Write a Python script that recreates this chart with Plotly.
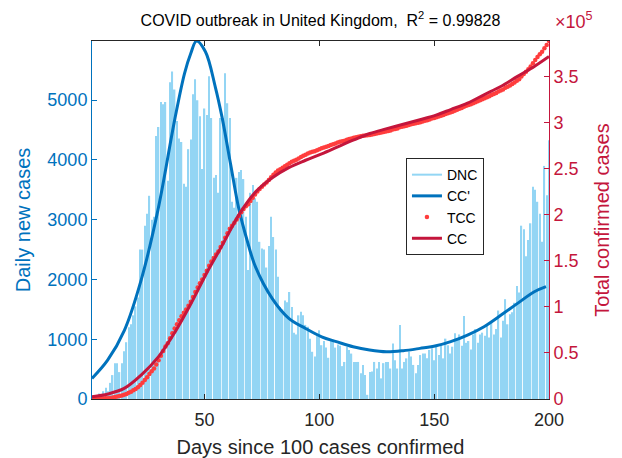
import plotly.graph_objects as go
import numpy as np

# daily new cases (days 1..200)
days = list(range(1, 201))
dnc = [60, 50, 50, 90, 70, 130, 190, 130, 270, 400,
       600, 600, 450, 600, 800, 950, 1200, 1250, 1400, 1550,
       1700, 2500, 2500, 2900, 3100, 3400, 3000, 3050, 4400, 4550,
       4970, 4930, 4970, 3650, 5300, 5480, 5180, 4650, 4360, 4300,
       3600, 3550, 4180, 4340, 5100, 5350, 5000, 4730, 3850, 4860,
       4750, 5400, 4700, 3700, 3750, 3450, 4700, 4700, 5450, 4950,
       4700, 3300, 3200, 3700, 3800, 3830, 3680, 3050, 2160, 3450,
       3580, 3360, 3300, 2630, 2520, 2500, 2200, 2560, 3050, 2710,
       2500, 2045, 1540, 1500, 1650, 1620, 1790, 1540, 1110, 1080,
       1400, 1460, 1400, 1240, 1210, 1010, 790, 710, 1070, 1150,
       900, 970, 860, 690, 970, 970, 860, 910, 890, 550,
       620, 875, 820, 760, 620, 620, 620, 430, 570, 400,
       70, 450, 460, 620, 510, 620, 345, 600, 620, 620,
       510, 930, 650, 510, 1240, 510, 620, 680, 790, 710,
       570, 430, 570, 735, 760, 760, 680, 820, 850, 650,
       900, 735, 900, 680, 1010, 900, 760, 875, 1100, 1010,
       1080, 890, 1390, 940, 970, 830, 1080, 1170, 940, 1080,
       1110, 1060, 1220, 1030, 1280, 1080, 1170, 1480, 1030, 1310,
       1670, 1250, 1420, 1450, 1610, 1890, 1780, 2900, 2840, 2390,
       2660, 2940, 3550, 3500, 3300, 3100, 2630, 3900, 3410, 4330]

# total confirmed cases = running total of the daily counts
tcc = 100 + np.cumsum(dnc)

# fitted cumulative curve (CC), read at sample days
cc_days = [1, 8, 15, 22.4, 30, 37, 44, 51, 58, 65, 72, 79.5, 86.7, 94, 101,
           108, 115, 122, 129, 136.5, 143.8, 150.8, 157.2, 164.5, 171.7, 179,
           186.3, 193.6, 200]
cc_vals = [2500, 5500, 11500, 26000, 46000, 72000, 103000, 137000, 168000,
           200000, 224000, 240000, 251000, 259000, 266000, 273500, 281000,
           288000, 293000, 298000, 303000, 308000, 314000, 321000, 330000,
           339000, 350000, 360700, 371500]

# fitted daily curve (CC'), read at sample days
ccp_days = [1, 7.8, 15.1, 22.4, 29.7, 37, 41.3, 44, 46.5, 50.4, 54.7, 57.6,
            61.3, 64.9, 68.5, 72.2, 79.5, 86.7, 94, 101, 107.4, 114.7, 121.9,
            129.2, 136.5, 143.8, 150.8, 157.2, 164.5, 171.7, 179, 186.3,
            193.6, 198.7]
ccp_vals = [345, 650, 1150, 1990, 3160, 4670, 5450, 5780, 5990, 5810, 5220,
            4720, 3940, 3190, 2660, 2210, 1680, 1350, 1180, 1040, 960, 875,
            820, 790, 808, 847, 890, 960, 1070, 1210, 1400, 1600, 1795, 1880]

blue = '#0072BD'
crimson = '#C4163C'
dark = '#262626'
font = 'Liberation Sans, Arial, sans-serif'

fig = go.Figure()
fig.add_trace(go.Bar(x=days, y=dnc, marker_color='#93d5f4', marker_line_width=0,
                     showlegend=False, name='DNC'))
fig.add_trace(go.Scatter(x=[None], y=[None], mode='lines', name='DNC',
                         line=dict(color='#93d6f4', width=2)))
fig.add_trace(go.Scatter(x=ccp_days, y=ccp_vals, mode='lines', name="CC'",
                         line=dict(color=blue, width=3, shape='spline')))
fig.add_trace(go.Scatter(x=days, y=tcc, mode='markers', name='TCC', yaxis='y2',
                         marker=dict(color='#ff3d3d', size=4.5)))
fig.add_trace(go.Scatter(x=cc_days, y=cc_vals, mode='lines', name='CC', yaxis='y2',
                         line=dict(color=crimson, width=3, shape='spline')))

# page body adds an 8px offset, so the figure is 8px smaller than the window
fig.update_layout(
    width=614, height=450, autosize=False,
    margin=dict(l=84, r=73, t=33, b=59),
    paper_bgcolor='white', plot_bgcolor='white',
    font=dict(family=font),
    bargap=0.4,
    title=dict(text='COVID outbreak in United Kingdom,  R<sup>2</sup> = 0.99828',
               x=0.5, xref='paper', y=1 - 12 / 450, yref='container',
               xanchor='center', yanchor='middle',
               font=dict(size=16, color='black')),
    xaxis=dict(range=[1, 200], tickvals=[50, 100, 150, 200],
               showline=True, linecolor=dark, mirror='ticks',
               ticks='inside', ticklen=5, tickcolor=dark, ticklabelstandoff=4,
               tickfont=dict(size=18, color=dark), showgrid=False, zeroline=False,
               automargin=False,
               title=dict(text='Days since 100 cases confirmed',
                          font=dict(size=20, color=dark), standoff=15)),
    yaxis=dict(range=[0, 5990], tickvals=[0, 1000, 2000, 3000, 4000, 5000],
               showline=True, linecolor=blue, ticks='inside', ticklen=5,
               tickcolor=blue, tickfont=dict(size=18, color=blue),
               showgrid=False, zeroline=False, automargin=False,
               title=dict(text='Daily new cases', font=dict(size=20, color=blue),
                          standoff=11)),
    yaxis2=dict(overlaying='y', side='right', range=[0, float(tcc.max())],
                tickvals=[0, 50000, 100000, 150000, 200000, 250000, 300000, 350000],
                ticktext=['0', '0.5', '1', '1.5', '2', '2.5', '3', '3.5'],
                showline=True, linecolor=crimson, ticks='inside', ticklen=5,
                tickcolor=crimson, tickfont=dict(size=18, color=crimson),
                showgrid=False, zeroline=False, automargin=False,
                title=dict(text='Total confirmed cases',
                           font=dict(size=20, color=crimson), standoff=17)),
    legend=dict(x=0.687, y=0.673, xanchor='left', yanchor='top',
                bgcolor='white', bordercolor=dark, borderwidth=1,
                font=dict(size=14, color='black'), tracegroupgap=0,
                entrywidth=48, entrywidthmode='pixels'),
    annotations=[dict(text='\u00d710<sup>5</sup>', x=1.054, y=1.056,
                      xref='paper', yref='paper', showarrow=False,
                      xanchor='center', yanchor='middle',
                      font=dict(size=18, color=crimson))],
)

fig.write_html('out.html')
